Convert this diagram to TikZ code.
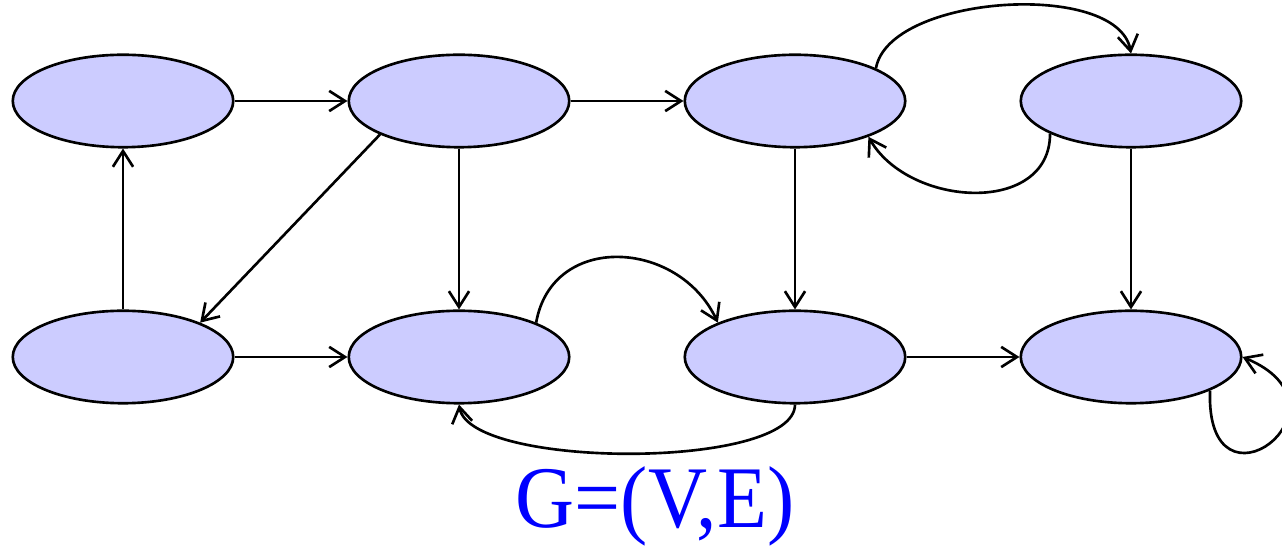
\documentclass[tikz,border=0pt]{standalone}
\usepackage{fontspec}
\usepackage{graphicx}
\newfontfamily\capfont{Liberation Serif}
\usetikzlibrary{shapes.geometric,arrows.meta}
\definecolor{vfill}{RGB}{204,204,255}
\definecolor{capblue}{RGB}{0,0,255}
\begin{document}
\begin{tikzpicture}[x=0.02cm,y=0.02cm,
  vert/.style={ellipse,draw,fill=vfill,line width=1.5pt,
    minimum width=4.41cm,minimum height=1.85cm,inner sep=0pt},
  edge/.style={line width=1.5pt,-{Straight Barb[length=9pt,width=11.5pt]}}]
\useasboundingbox (0,0) rectangle (1282,-546);
% vertices
\node[vert] (a) at (123,-101) {};
\node[vert] (b) at (459,-101) {};
\node[vert] (c) at (795,-101) {};
\node[vert] (d) at (1131,-101) {};
\node[vert] (e) at (123,-357) {};
\node[vert] (f) at (459,-357) {};
\node[vert] (g) at (795,-357) {};
\node[vert] (h) at (1131,-357) {};
% straight edges
\draw[edge] (a.east) -- (b.west);
\draw[edge] (b.east) -- (c.west);
\draw[edge] (e.north) -- (a.south);
\draw[edge] (b.203) -- (e.24);
\draw[edge] (b.south) -- (f.north);
\draw[edge] (c.south) -- (g.north);
\draw[edge] (d.south) -- (h.north);
\draw[edge] (e.east) -- (f.west);
\draw[edge] (g.east) -- (h.west);
% curved edges
\draw[edge] (f.24) to[out=80,in=115,looseness=1.3] (g.156);
\draw[edge] (g.south) to[out=-90,in=-80,looseness=0.5] (f.south);
\draw[edge] (c.22) to[out=80,in=100,looseness=0.75] (d.north);
\draw[edge] (d.202) to[out=-90,in=-60,looseness=1.15] (c.-26);
\draw[edge] (h.-23) .. controls +(-5,-135) and +(120,-50) .. (h.east);
% caption
\node[anchor=base,text=capblue,inner sep=0pt] (cap) at (655,-528)
  {\scalebox{0.93}[1]{\capfont\fontsize{50pt}{56pt}\selectfont G=(V,E)}};
\end{tikzpicture}
\end{document}
